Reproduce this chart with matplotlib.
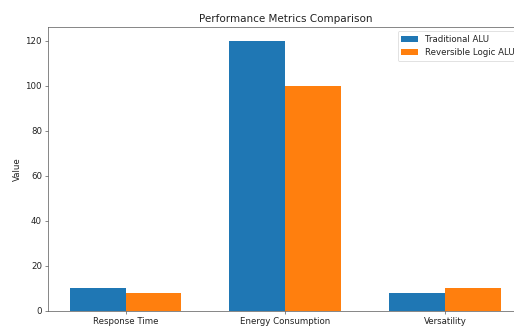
import matplotlib
matplotlib.use("Agg")
import matplotlib.pyplot as plt
import numpy as np

categories = ["Response Time", "Energy Consumption", "Versatility"]
traditional = [10, 120, 8]
reversible = [8, 100, 10]
series_names = ["Traditional ALU", "Reversible Logic ALU"]

s = 0.62
fig = plt.figure(figsize=(5.14, 3.27), dpi=100)
ax = fig.add_axes([48/514, 1-311/327, (522.6-48)/514, (311-27)/327])
x = np.arange(len(categories))
w = 0.35
ax.bar(x - w/2, traditional, w, label=series_names[0], color="#1f77b4")
ax.bar(x + w/2, reversible, w, label=series_names[1], color="#ff7f0e")
ax.set_xticks(x)
ax.set_xticklabels(categories, fontsize=10*s, color="#222222")
ax.tick_params(axis="y", labelsize=10*s, labelcolor="#222222")
ax.tick_params(length=3.5*s, width=0.8*s, pad=3.5*s, color="#555555")
for sp in ax.spines.values():
    sp.set_linewidth(0.8*s)
    sp.set_color("#555555")
ax.set_ylabel("Value", fontsize=10*s, color="#222222", labelpad=4*s)
ax.set_title("Performance Metrics Comparison", fontsize=12*s, color="#222222", pad=6*s)
leg = ax.legend(loc="upper right", fontsize=10*s, labelcolor="#222222")
leg.get_frame().set_linewidth(0.8*s)
fig.savefig("out.png", dpi=100)
